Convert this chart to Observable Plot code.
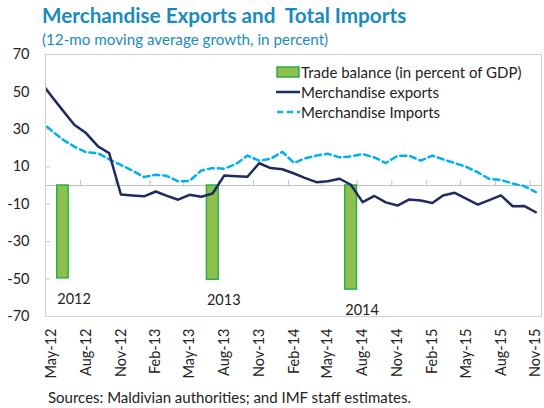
<!DOCTYPE html>
<html><head><meta charset="utf-8">
<script src="https://cdn.jsdelivr.net/npm/d3@7"></script>
<script src="https://cdn.jsdelivr.net/npm/@observablehq/plot@0.6"></script>
<style>
body{margin:0;background:#fff;font-family:Lato,"Open Sans",sans-serif;}
#wrap{position:relative;width:544px;height:408px;overflow:hidden;}
#title{position:absolute;left:42px;top:3px;font-size:20.7px;font-weight:700;color:#1a8bbd;white-space:pre;}
#subtitle{position:absolute;left:42px;top:30px;font-size:15.2px;color:#1a8bbd;white-space:pre;}
#chart{position:absolute;left:0;top:0;}
#caption{position:absolute;left:48px;top:388px;font-size:15px;color:#222;white-space:pre;}
#legend{position:absolute;left:276px;top:62px;font-size:15px;color:#222;}
.row{display:flex;align-items:center;height:20px;}
.row svg{margin-right:1px;}
</style></head>
<body><div id="wrap">
<div id="chart"></div>
<div id="title">Merchandise Exports and  Total Imports</div>
<div id="subtitle">(12-mo moving average growth, in percent)</div>
<div id="legend"></div>
<div id="caption">Sources: Maldivian authorities; and IMF staff estimates.</div>
</div>
<script>
// Monthly categories (Apr-12 is the lead-in point visible at the left edge)
const months = ["Apr-12","May-12","Jun-12","Jul-12","Aug-12","Sep-12","Oct-12","Nov-12","Dec-12",
  "Jan-13","Feb-13","Mar-13","Apr-13","May-13","Jun-13","Jul-13","Aug-13","Sep-13","Oct-13","Nov-13","Dec-13",
  "Jan-14","Feb-14","Mar-14","Apr-14","May-14","Jun-14","Jul-14","Aug-14","Sep-14","Oct-14","Nov-14","Dec-14",
  "Jan-15","Feb-15","Mar-15","Apr-15","May-15","Jun-15","Jul-15","Aug-15","Sep-15","Oct-15","Nov-15"];
const merchandiseExports = [56,48,40,32.5,28,21,17.3,-4.8,-5.3,
  -5.8,-3.2,-5.4,-7.6,-5,-6,-4.3,5.4,5,4.7,11.9,9.3,
  8.7,6.4,4.1,1.8,2.3,3.6,0.4,-8.9,-5.6,-9,-10.7,-7.5,
  -8,-9.3,-5.3,-3.9,-7,-10.2,-7.8,-5.3,-11.1,-10.9,-14.3];
const merchandiseImports = [35,29.5,24.5,20.8,17.8,17.3,14,11,8,
  4.5,5.7,5.2,2.2,2.5,8,9.3,9,11.5,16,13.2,14.3,
  18,12,14.5,16,17,15,15.5,16.8,15,12,15.8,16,
  13.3,16,14,12,10,7,3.5,3,1,-0.3,-3.5];
const balanceYears = ["2012","2013","2014"];
const balanceMonths = ["Jun-12","Jul-13","Jul-14"];
const balanceValues = [-49.6,-50.4,-55.6];
const xTickLabels = ["May-12","Aug-12","Nov-12","Feb-13","May-13","Aug-13","Nov-13","Feb-14",
  "May-14","Aug-14","Nov-14","Feb-15","May-15","Aug-15","Nov-15"];
const yTicks = [-70,-50,-30,-10,10,30,50,70];

const colExports = "#1F2A5E", colImports = "#00B0F0", colBarFill = "#8EC04F", colBarStroke = "#2AAE4A";

const parse = d3.utcParse("%b-%y");
const mid = s => d3.utcDay.offset(parse(s), 15);
const series = months.map((m, i) => ({date: mid(m), exports: merchandiseExports[i], imports: merchandiseImports[i]}));
const bars = balanceYears.map((y, i) => ({year: y, x1: parse(balanceMonths[i]),
  x2: d3.utcMonth.offset(parse(balanceMonths[i]), 1), value: balanceValues[i]}));
const tickBounds = xTickLabels.map(parse);
const labelDates = xTickLabels.map(mid);
const xStart = parse("May-12"), xEnd = parse("Dec-15");

const chart = Plot.plot({
  width: 544, height: 380,
  marginTop: 54, marginBottom: 64, marginLeft: 45, marginRight: 3,
  style: {fontFamily: "Lato, sans-serif", fontSize: "14px", color: "#222", background: "transparent"},
  x: {type: "utc", domain: [xStart, xEnd]},
  y: {domain: [-70, 70]},
  marks: [
    Plot.ruleY([0], {stroke: "#c0c0c0", strokeWidth: 1}),
    Plot.ruleX(tickBounds, {x: d => d, y1: 0, y2: 0, insetTop: -5, stroke: "#c0c0c0"}),
    Plot.ruleY(yTicks, {y: d => d, x1: () => xStart, x2: () => xStart, insetRight: -5, stroke: "#c0c0c0"}),
    Plot.rectY(bars, {x1: "x1", x2: "x2", y: "value", fill: colBarFill, stroke: colBarStroke, strokeWidth: 1.5}),
    Plot.text(bars, {x: "x1", y: "value", text: "year", textAnchor: "start", dy: 21, fontSize: 14.5, fill: "#222"}),
    Plot.line(series, {x: "date", y: "imports", stroke: colImports, strokeWidth: 2.5, strokeDasharray: "6,4", clip: true}),
    Plot.line(series, {x: "date", y: "exports", stroke: colExports, strokeWidth: 2.5, strokeLinejoin: "round", clip: true}),
    Plot.frame({stroke: "#d0d0d0"}),
    Plot.axisY(yTicks, {tickSize: 0, tickPadding: 16, tickFormat: d => String(d), fontSize: 14.5}),
    Plot.axisX(labelDates, {tickSize: 0, tickRotate: -90, tickPadding: 12, tickFormat: d3.utcFormat("%b-%y"), fontSize: 14.5})
  ]
});
document.getElementById("chart").appendChild(chart);

const legendItems = [
  {label: "Trade balance (in percent of GDP)", type: "bar"},
  {label: "Merchandise exports", type: "line"},
  {label: "Merchandise Imports", type: "dash"}
];
const legend = document.getElementById("legend");
for (const it of legendItems) {
  const row = document.createElement("div");
  row.className = "row";
  let sw;
  if (it.type === "bar") sw = `<svg width="24" height="14"><rect x="1" y="2" width="22" height="10" fill="${colBarFill}" stroke="${colBarStroke}" stroke-width="1.5"/></svg>`;
  else if (it.type === "line") sw = `<svg width="24" height="14"><line x1="0" x2="24" y1="7" y2="7" stroke="${colExports}" stroke-width="2.5"/></svg>`;
  else sw = `<svg width="24" height="14"><line x1="1" x2="24" y1="7" y2="7" stroke="${colImports}" stroke-width="2.5" stroke-dasharray="6,4"/></svg>`;
  row.innerHTML = sw + `<span>${it.label}</span>`;
  legend.appendChild(row);
}
</script>
</body></html>
